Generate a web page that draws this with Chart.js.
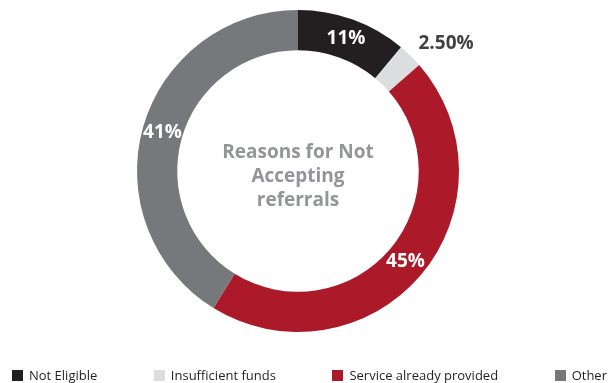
<!DOCTYPE html>
<html lang="en">
<head>
  <meta charset="UTF-8">
  <title>Reasons for Not Accepting referrals</title>
  <script src="https://cdn.jsdelivr.net/npm/chart.js@4"></script>
  <style>
    body {
      margin: 0;
      padding: 0;
      background-color: #ffffff;
      font-family: 'Open Sans', sans-serif;
    }

    #wrap {
      position: relative;
      width: 612px;
      height: 383px;
    }

    #legend {
      position: absolute;
      left: 12px;
      right: 5px;
      top: 366px;
      display: flex;
      justify-content: space-between;
      font-size: 13px;
      font-weight: 500;
      color: #231f20;
    }

    .item {
      display: flex;
      align-items: center;
      white-space: nowrap;
    }

    .box {
      width: 11px;
      height: 11px;
      margin-right: 6px;
    }
  </style>
</head>
<body>

  <div id="wrap">
    <canvas id="chart" width="612" height="383"></canvas>
    <div id="legend"></div>
  </div>

  <script>
    // categories and values
    const labels = ['Not Eligible', 'Insufficient funds', 'Service already provided', 'Other'];
    const values = [11, 2.5, 45, 41];
    const valueLabels = ['11%', '2.50%', '45%', '41%'];
    const colors = ['#231f20', '#dcddde', '#ac1928', '#77787b'];
    const centerLines = ['Reasons for Not', 'Accepting', 'referrals'];

    // percentage labels on the ring; the small slice gets its label outside
    const sliceLabels = {
      id: 'sliceLabels',
      afterDatasetsDraw(chart) {
        const ctx = chart.ctx;
        const arcs = chart.getDatasetMeta(0).data;
        ctx.save();
        ctx.font = 'bold 19px "Open Sans", sans-serif';
        ctx.textBaseline = 'middle';
        arcs.forEach((arc, i) => {
          const p = arc.getProps(['x', 'y', 'startAngle', 'endAngle', 'innerRadius', 'outerRadius']);
          const mid = (p.startAngle + p.endAngle) / 2;
          if (values[i] < 5) {
            const ex = p.x + Math.cos(mid) * p.outerRadius;
            const ey = p.y + Math.sin(mid) * p.outerRadius;
            ctx.fillStyle = '#414042';
            ctx.textAlign = 'left';
            ctx.fillText(valueLabels[i], ex + 8, ey - 12);
          } else {
            const r = (p.innerRadius + p.outerRadius) / 2;
            ctx.fillStyle = '#ffffff';
            ctx.textAlign = 'center';
            ctx.fillText(valueLabels[i], p.x + Math.cos(mid) * r, p.y + Math.sin(mid) * r);
          }
        });

        // title in the hole
        const c = arcs[0];
        ctx.fillStyle = '#939598';
        ctx.font = 'bold 19px "Open Sans", sans-serif';
        ctx.textAlign = 'center';
        centerLines.forEach((line, j) => {
          ctx.fillText(line, c.x, c.y - 18 + j * 24);
        });
        ctx.restore();
      }
    };

    const ctx = document.getElementById('chart').getContext('2d');
    new Chart(ctx, {
      type: 'doughnut',
      data: {
        labels: labels,
        datasets: [{
          data: values,
          backgroundColor: colors,
          borderWidth: 0
        }]
      },
      options: {
        responsive: false,
        animation: false,
        cutout: '75%',
        layout: {
          padding: { top: 10, bottom: 51, left: 0, right: 16 }
        },
        plugins: {
          legend: { display: false },
          tooltip: { enabled: false }
        }
      },
      plugins: [sliceLabels]
    });

    // legend row under the ring
    const legend = document.getElementById('legend');
    labels.forEach((name, i) => {
      const item = document.createElement('div');
      item.className = 'item';
      const box = document.createElement('span');
      box.className = 'box';
      box.style.backgroundColor = colors[i];
      item.appendChild(box);
      item.appendChild(document.createTextNode(name));
      legend.appendChild(item);
    });
  </script>

</body>
</html>
